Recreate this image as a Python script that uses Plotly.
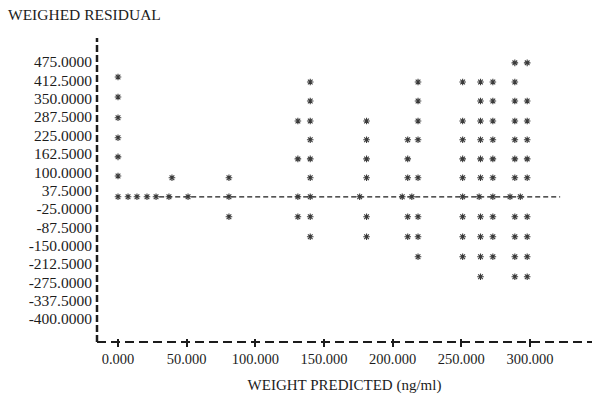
import plotly.graph_objects as go

# ---------------- data ----------------
Y_TICKS = [475, 412.5, 350, 287.5, 225, 162.5, 100, 37.5, -25, -87.5,
           -150, -212.5, -275, -337.5, -400]
Y_TICK_LABELS = ["475.0000", "412.5000", "350.0000", "287.5000", "225.0000",
                 "162.5000", "100.0000", "37.5000", "-25.0000", "-87.5000",
                 "-150.0000", "-212.5000", "-275.0000", "-337.5000", "-400.0000"]
X_TICKS = [0, 50, 100, 150, 200, 250, 300]
X_TICK_LABELS = ["0.000", "50.000", "100.000", "150.000", "200.000",
                 "250.000", "300.000"]

# predicted weight of each column of points, and the residuals in that column
COLUMN_X = [0, 39.3, 80.8, 131, 140, 181, 211, 218.5, 251, 264, 273, 289, 298]
COLUMN_RESID = [
    [424, 356, 285, 217, 152, 87],
    [81],
    [81, -52],
    [274, 145, -52],
    [407, 342, 274, 210, 145, 81, -52, -120],
    [274, 210, 145, 81, -52, -120],
    [210, 145, 81, -52, -120],
    [407, 342, 274, 210, 81, -52, -120, -188],
    [407, 274, 210, 145, 81, -52, -120, -188],
    [407, 342, 274, 210, 145, 81, -52, -120, -188, -256],
    [407, 342, 274, 210, 145, 81, -52, -120, -188],
    [472, 407, 342, 274, 210, 145, 81, -52, -120, -188, -256],
    [472, 342, 274, 210, 145, 81, -52, -120, -188, -256],
]
# points lying on the near-zero row
BASELINE_X = [0, 7.3, 13.8, 21.1, 27.7, 37.1, 51, 80.8, 131, 140, 176, 207,
              214, 251, 263, 273, 285.5, 293]
BASELINE_RESID = [16, 16, 16, 16, 16, 16, 16, 16, 16, 16, 16, 16,
                  16, 16, 16, 16, 16, 16]

ZERO_LEVEL = 16
ZERO_LINE_X = [30, 322]

X_RANGE = [-15.3, 345.2]
Y_RANGE = [-464.6, 556.6]

# ---------------- figure ----------------
xs, ys = [], []
for cx, res in zip(COLUMN_X, COLUMN_RESID):
    for r in res:
        xs.append(cx)
        ys.append(r)
xs += BASELINE_X
ys += BASELINE_RESID

INK = "#1c1c1c"
STAR = "#3a3a3a"
FONT = "Liberation Serif"

fig = go.Figure()
fig.add_trace(go.Scatter(
    x=ZERO_LINE_X, y=[ZERO_LEVEL, ZERO_LEVEL], mode="lines",
    line=dict(color=INK, width=1.3, dash="5px,3px"), hoverinfo="skip"))
fig.add_trace(go.Scatter(
    x=xs, y=ys, mode="markers",
    marker=dict(symbol="asterisk-open", size=5.5, color=STAR,
                line=dict(width=1.1, color=STAR)),
    hoverinfo="skip"))

PLOT_H = 300
fig.update_layout(
    width=592, height=394,
    margin=dict(l=97, r=0, t=38, b=56),
    paper_bgcolor="white", plot_bgcolor="white",
    showlegend=False,
    font=dict(family=FONT, color=INK, size=14),
    title=dict(text="WEIGHED RESIDUAL", xref="container", x=8 / 592,
               xanchor="left", yref="container", y=1 - 15 / 394,
               yanchor="middle", font=dict(family=FONT, size=15.5, color=INK)),
    xaxis=dict(range=X_RANGE, tickvals=X_TICKS, ticktext=X_TICK_LABELS,
               ticks="outside", ticklen=8, tickwidth=1.5, tickcolor=INK,
               showgrid=False, zeroline=False, showline=False,
               tickfont=dict(family=FONT, size=14.5, color=INK),
               title=dict(text="WEIGHT PREDICTED (ng/ml)", standoff=14,
                          font=dict(family=FONT, size=15, color=INK))),
    yaxis=dict(range=Y_RANGE, tickvals=Y_TICKS, ticktext=Y_TICK_LABELS,
               ticks="", showgrid=False, zeroline=False, showline=False,
               ticklabelstandoff=4,
               tickfont=dict(family=FONT, size=15.5, color=INK)),
    shapes=[
        dict(type="line", xref="paper", yref="paper", x0=0, x1=0,
             y0=-4 / PLOT_H, y1=1,
             line=dict(color=INK, width=2.5, dash="7px,3px")),
        dict(type="line", xref="paper", yref="paper", x0=0, x1=1,
             y0=-4 / PLOT_H, y1=-4 / PLOT_H,
             line=dict(color=INK, width=1.8, dash="9px,5px")),
    ],
)

fig.write_html("out.html", config={"displayModeBar": False},
               post_script="document.body.style.margin='0';")
